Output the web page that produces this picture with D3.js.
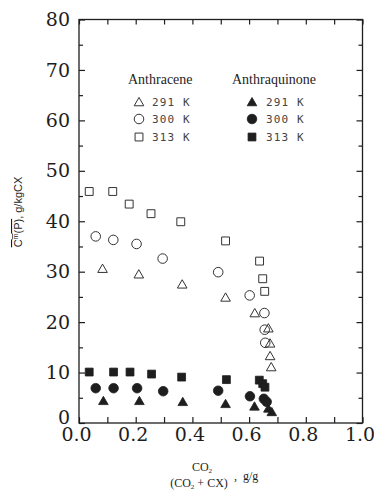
<!DOCTYPE html>
<html>
<head>
<meta charset="utf-8">
<script src="https://cdn.jsdelivr.net/npm/d3@7"></script>
<style>
  body { margin: 0; background: #fff; }
  svg { display: block; }
</style>
</head>
<body>
<svg id="chart" width="374" height="491"></svg>
<script>
// values: x = CO2/(CO2+CX) g/g, y = C(P) g/kgCX
var xTicks = [0, 0.2, 0.4, 0.6, 0.8, 1.0];
var yTicks = [0, 10, 20, 30, 40, 50, 60, 70, 80];

// Anthracene (open symbols)
var an291x = [0.083, 0.211, 0.364, 0.517, 0.620, 0.668, 0.674, 0.674, 0.678];
var an291y = [30.6, 29.5, 27.5, 24.9, 21.8, 18.8, 15.8, 13.3, 11.1];
var an300x = [0.059, 0.121, 0.203, 0.295, 0.491, 0.602, 0.654, 0.655, 0.657];
var an300y = [37.0, 36.3, 35.5, 32.6, 29.9, 25.3, 21.8, 18.5, 15.9];
var an313x = [0.036, 0.119, 0.177, 0.254, 0.359, 0.517, 0.637, 0.648, 0.655];
var an313y = [45.9, 45.9, 43.4, 41.5, 39.9, 36.1, 32.1, 28.6, 26.1];

// Anthraquinone (filled symbols)
var aq291x = [0.086, 0.213, 0.366, 0.517, 0.619, 0.668, 0.680];
var aq291y = [4.4, 4.4, 4.2, 3.8, 3.3, 2.9, 2.2];
var aq300x = [0.059, 0.122, 0.205, 0.297, 0.491, 0.603, 0.652, 0.662];
var aq300y = [6.9, 6.9, 6.9, 6.3, 6.4, 5.3, 4.8, 4.2];
var aq313x = [0.036, 0.122, 0.180, 0.256, 0.362, 0.520, 0.636, 0.648, 0.656];
var aq313y = [10.1, 10.1, 10.1, 9.7, 9.1, 8.6, 8.5, 7.8, 7.1];

var legendLabels = ["291 K", "300 K", "313 K"];

var margin = { top: 19.5, right: 11.5, bottom: 68, left: 79 };
var width = 374 - margin.left - margin.right;
var height = 491 - margin.top - margin.bottom;
var ink = "#1e1e1e";

var svg = d3.select("#chart");
var g = svg.append("g").attr("transform", "translate(" + margin.left + "," + margin.top + ")");

var x = d3.scaleLinear().domain([0, 1]).range([0, width]);
var y = d3.scaleLinear().domain([0, 80]).range([height, 0]);

var tickFont = "'DejaVu Serif', serif";
var xAll = d3.range(0, 11).map(d => d / 10);
var yMinor = d3.range(5, 80, 10);

// bottom axis, ticks pointing inward
var xAxis = g.append("g")
  .attr("transform", "translate(0," + height + ")")
  .call(d3.axisBottom(x).tickValues(xAll).tickSize(-6).tickPadding(5)
    .tickFormat(d => (Math.round(d * 10) % 2 === 0 ? d3.format(".1f")(d) : "")));
xAxis.selectAll("text").attr("dx", -3);

var yAxis = g.append("g")
  .call(d3.axisLeft(y).tickValues(yTicks).tickSize(-6).tickPadding(9).tickFormat(d3.format("d")));
g.append("g").call(d3.axisLeft(y).tickValues(yMinor).tickSize(-4).tickFormat(""));

// top and right: ticks only
g.append("g").call(d3.axisTop(x).tickValues(xAll).tickSize(-5).tickFormat(""));
g.append("g").attr("transform", "translate(" + width + ",0)")
  .call(d3.axisRight(y).tickValues(yTicks).tickSize(-6).tickFormat(""));
g.append("g").attr("transform", "translate(" + width + ",0)")
  .call(d3.axisRight(y).tickValues(yMinor).tickSize(-4).tickFormat(""));

g.selectAll(".domain").remove();
g.selectAll(".tick line").attr("stroke", ink).attr("stroke-width", 1.2);
g.selectAll(".tick text").attr("fill", ink).style("font-family", tickFont).style("font-size", "19px");
// the "0" on the y axis sits just above the "0.0" of the x axis
yAxis.selectAll(".tick text").filter(d => d === 0).attr("dy", "0.05em");

g.append("rect")
  .attr("width", width).attr("height", height)
  .attr("fill", "none").attr("stroke", ink).attr("stroke-width", 1.3);

// symbols
var sym = {
  tri: d3.symbol().type(d3.symbolTriangle).size(40),
  cir: d3.symbol().type(d3.symbolCircle).size(72),
  sq: d3.symbol().type(d3.symbolSquare).size(62)
};

function zip(xs, ys) {
  return xs.map((v, i) => [v, ys[i]]);
}

var series = [
  { pts: zip(an291x, an291y), shape: "tri", filled: false },
  { pts: zip(an300x, an300y), shape: "cir", filled: false },
  { pts: zip(an313x, an313y), shape: "sq", filled: false },
  { pts: zip(aq291x, aq291y), shape: "tri", filled: true },
  { pts: zip(aq300x, aq300y), shape: "cir", filled: true },
  { pts: zip(aq313x, aq313y), shape: "sq", filled: true }
];

series.forEach(function (s) {
  g.append("g").selectAll("path")
    .data(s.pts)
    .enter().append("path")
    .attr("d", sym[s.shape])
    .attr("transform", d => "translate(" + x(d[0]) + "," + (y(d[1]) + (s.shape === "tri" ? 1 : 0)) + ")")
    .attr("fill", s.filled ? ink : "#fff")
    .attr("fill-opacity", s.filled ? 1 : 0)
    .attr("stroke", s.filled ? ink : "#333")
    .attr("stroke-width", s.filled ? 0.8 : 1);
});

// legend
var legendFont = "'Liberation Serif', 'Times New Roman', serif";
var monoFont = "'DejaVu Sans Mono', monospace";
var legendCols = [
  { title: "Anthracene", tx: 128, mx: 139, lx: 152, filled: false },
  { title: "Anthraquinone", tx: 232, mx: 252, lx: 266, filled: true }
];
var legendShapes = ["tri", "cir", "sq"];
var rowY = [102, 119, 137];

legendCols.forEach(function (c) {
  svg.append("text")
    .attr("x", c.tx).attr("y", 84)
    .attr("fill", ink)
    .style("font-family", legendFont).style("font-size", "14px")
    .text(c.title);
  legendShapes.forEach(function (shape, i) {
    svg.append("path")
      .attr("d", sym[shape])
      .attr("transform", "translate(" + c.mx + "," + (rowY[i] + (shape === "tri" ? 1 : 0)) + ")")
      .attr("fill", c.filled ? ink : "none")
      .attr("stroke", c.filled ? ink : "#333")
      .attr("stroke-width", c.filled ? 0.8 : 1);
    svg.append("text")
      .attr("x", c.lx).attr("y", rowY[i] + 4)
      .attr("fill", "#444")
      .style("font-family", monoFont).style("font-size", "11px")
      .style("letter-spacing", "1.1px")
      .text(legendLabels[i]);
  });
});

// y axis title, rotated
var yTitle = svg.append("text")
  .attr("transform", "translate(22,212) rotate(-90)")
  .attr("text-anchor", "middle")
  .attr("fill", ink)
  .style("font-family", "'Liberation Sans', sans-serif").style("font-size", "11px");
var over = yTitle.append("tspan").attr("text-decoration", "overline");
over.append("tspan").text("C");
over.append("tspan").attr("dy", -4).style("font-size", "7px").text("m");
over.append("tspan").attr("dy", 4).text("(P)");
yTitle.append("tspan").text(",  g/kgCX");

// x axis title as a fraction
var xFont = "'Liberation Serif', 'Times New Roman', serif";
var num = svg.append("text")
  .attr("x", 202).attr("y", 471).attr("text-anchor", "middle")
  .attr("fill", ink).style("font-family", xFont).style("font-size", "12px");
num.append("tspan").text("CO");
num.append("tspan").attr("dy", 2).style("font-size", "7px").text("2");

var den = svg.append("text")
  .attr("x", 199).attr("y", 486.5).attr("text-anchor", "middle")
  .attr("fill", ink).style("font-family", xFont).style("font-size", "12px");
den.append("tspan").text("(CO");
den.append("tspan").attr("dy", 2).style("font-size", "7px").text("2");
den.append("tspan").attr("dy", -2).text(" + CX)");

svg.append("text")
  .attr("x", 234).attr("y", 480)
  .attr("fill", ink).style("font-family", xFont).style("font-size", "12px")
  .text(",");
svg.append("text")
  .attr("x", 243).attr("y", 480)
  .attr("fill", ink).style("font-family", xFont).style("font-size", "12px")
  .text("g/g");
</script>
</body>
</html>
